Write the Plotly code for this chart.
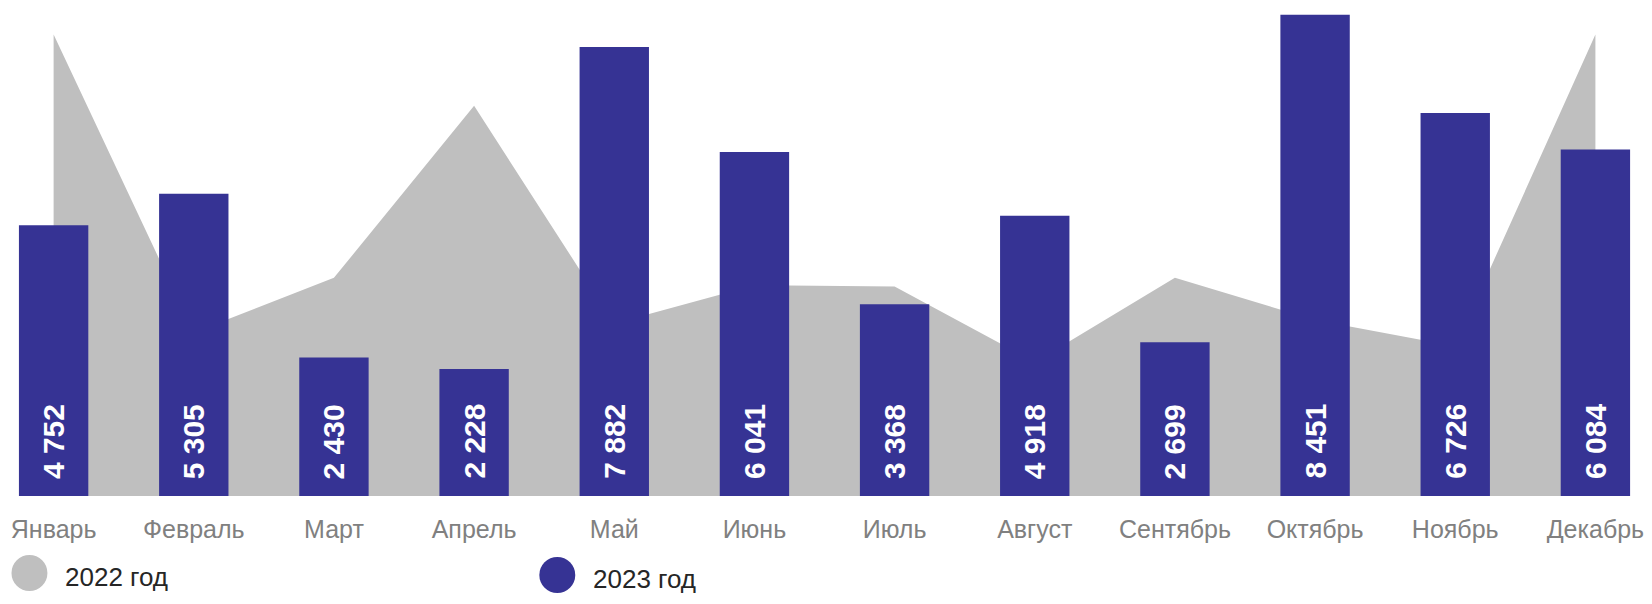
import plotly.graph_objects as go

months = ["Январь", "Февраль", "Март", "Апрель", "Май", "Июнь",
          "Июль", "Август", "Сентябрь", "Октябрь", "Ноябрь", "Декабрь"]
v2022 = [8100, 2870, 3830, 6850, 3030, 3700, 3680, 2350, 3830, 3090, 2630, 8100]
v2023 = [4752, 5305, 2430, 2228, 7882, 6041, 3368, 4918, 2699, 8451, 6726, 6084]
labels2023 = ["4 752", "5 305", "2 430", "2 228", "7 882", "6 041",
              "3 368", "4 918", "2 699", "8 451", "6 726", "6 084"]
series_names = ["2022 год", "2023 год"]

GREY = "#BFBFBF"
BLUE = "#363394"
FONT = "Liberation Sans, Arial, sans-serif"

W, H = 1636, 588
B = 100
plot_h = H - B
PX_PER_UNIT = 0.05696
CAT_PX = 140.42

fig = go.Figure()
fig.add_trace(go.Scatter(
    x=months, y=v2022, mode="lines", fill="tozeroy",
    line=dict(width=0, color=GREY), fillcolor=GREY,
    name=series_names[0], showlegend=False, hoverinfo="skip",
    xaxis="x", yaxis="y"))
fig.add_trace(go.Bar(
    x=months, y=v2023, width=0.495, marker=dict(color=BLUE, line=dict(width=0)),
    name=series_names[1], showlegend=False, hoverinfo="skip",
    xaxis="x2", yaxis="y2"))

for m, t in zip(months, labels2023):
    fig.add_annotation(x=m, y=0, xref="x2", yref="y2", text=t, textangle=-90,
                       showarrow=False, yanchor="bottom", xanchor="center",
                       yshift=15,
                       font=dict(family=FONT, size=30, color="white", weight="bold"))

# legend drawn as shapes + annotations (pixel positions within the figure)
def py2paper(py):
    return (plot_h - py) / plot_h

legend_items = [
    (series_names[0], GREY, 21.5, 565, 55, 569),
    (series_names[1], BLUE, 550.3, 567, 584, 570.5),
]
for name, col, cx, cy, tx, ty in legend_items:
    r = 18
    fig.add_shape(type="circle", xref="paper", yref="paper",
                  x0=(cx - r) / W, x1=(cx + r) / W,
                  y0=py2paper(cy + r), y1=py2paper(cy - r),
                  fillcolor=col, line=dict(width=0), layer="above")
    fig.add_annotation(x=tx / W, y=py2paper(ty), xref="paper", yref="paper",
                       text=name, showarrow=False, xanchor="left", yanchor="middle",
                       font=dict(family=FONT, size=26, color="#262626"))

x0 = -45.7 / CAT_PX
x1 = x0 + W / CAT_PX
yr = [0, plot_h / PX_PER_UNIT]
fig.update_layout(
    width=W, height=H,
    margin=dict(l=0, r=0, t=0, b=B, pad=0),
    paper_bgcolor="white", plot_bgcolor="white",
    xaxis=dict(range=[x0, x1], showgrid=False, zeroline=False, showline=False,
               ticks="", tickfont=dict(family=FONT, size=25, color="#808080"),
               ticklabelstandoff=16, fixedrange=True),
    yaxis=dict(range=yr, showgrid=False, zeroline=False,
               showline=False, showticklabels=False, ticks="", fixedrange=True),
    xaxis2=dict(range=[x0, x1], overlaying="x", visible=False, fixedrange=True),
    yaxis2=dict(range=yr, overlaying="y", visible=False, fixedrange=True),
    showlegend=False,
)

fig.write_html("out.html")
